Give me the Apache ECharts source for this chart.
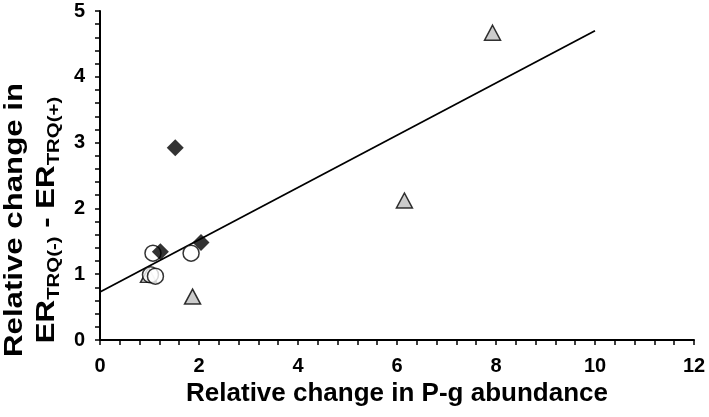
<!DOCTYPE html>
<html>
<head>
<meta charset="utf-8">
<script src="https://cdn.jsdelivr.net/npm/echarts@6/dist/echarts.min.js"></script>
<style>
html,body{margin:0;padding:0;background:#fff;}
#chart{width:709px;height:417px;}
</style>
</head>
<body>
<div id="chart"></div>
<script>
// Black diamonds
const diamondX = [1.52, 1.22, 2.04];
const diamondY = [2.92, 1.34, 1.48];
// Open circles
const circleX = [1.07, 1.02, 1.12, 1.84];
const circleY = [1.32, 0.99, 0.97, 1.32];
// Grey triangles
const triangleX = [0.98, 1.87, 6.15, 7.93];
const triangleY = [0.99, 0.66, 2.12, 4.67];
// Trend line end points
const trendX = [0, 10];
const trendY = [0.73, 4.70];
// Axis ticks
const xTicks = [0, 2, 4, 6, 8, 10, 12];
const yTicks = [0, 1, 2, 3, 4, 5];

function pairs(xs, ys){ return xs.map((x,i)=>[x, ys[i]]); }

const font = '"Liberation Sans", Arial, sans-serif';
const chart = echarts.init(document.getElementById('chart'));
chart.setOption({
  backgroundColor: '#ffffff',
  animation: false,
  grid: {left: 100, right: 15, top: 11, bottom: 77},
  xAxis: {
    type: 'value', min: xTicks[0], max: xTicks[xTicks.length-1], interval: xTicks[1]-xTicks[0],
    axisLine: {lineStyle: {color: '#000', width: 2}},
    axisTick: {show: true, inside: false, length: 5, lineStyle: {color: '#000', width: 1.5}},
    minorTick: {show: true, splitNumber: 5, length: 5, lineStyle: {color: '#000', width: 1.5}},
    splitLine: {show: false},
    axisLabel: {color: '#000', fontSize: 20, fontWeight: 'bold', fontFamily: font, margin: 16},
    name: 'Relative change in P-g abundance',
    nameLocation: 'middle', nameGap: 41,
    nameTextStyle: {color: '#000', fontSize: 26, fontWeight: 'bold', fontFamily: font}
  },
  yAxis: {
    type: 'value', min: yTicks[0], max: yTicks[yTicks.length-1], interval: yTicks[1]-yTicks[0],
    axisLine: {lineStyle: {color: '#000', width: 2}},
    axisTick: {show: true, inside: false, length: 5, lineStyle: {color: '#000', width: 1.5}},
    minorTick: {show: true, splitNumber: 5, length: 5, lineStyle: {color: '#000', width: 1.5}},
    splitLine: {show: false},
    axisLabel: {color: '#000', fontSize: 20, fontWeight: 'bold', fontFamily: font, margin: 15}
  },
  graphic: [{
    type: 'text',
    x: 31, y: 220,
    rotation: Math.PI/2,
    scaleX: 1.2, scaleY: 1.0,
    style: {
      text: 'Relative change in\nER{sub|TRQ(-)} - ER{sub|TRQ(+)}',
      fontSize: 26, fontWeight: 'bold', fontFamily: font, fill: '#000',
      align: 'center', verticalAlign: 'middle', lineHeight: 32,
      rich: {
        sub: {fontSize: 17, fontWeight: 'bold', fontFamily: font, fill: '#000', verticalAlign: 'bottom', lineHeight: 32, padding: [8,0,0,0]}
      }
    }
  }],
  series: [
    {
      type: 'line', data: pairs(trendX, trendY), symbol: 'none',
      lineStyle: {color: '#000', width: 1.8}, z: 1, silent: true
    },
    {
      type: 'scatter', data: pairs(triangleX, triangleY), symbol: 'triangle', symbolSize: [16, 15],
      itemStyle: {color: '#bfbfbf', borderColor: '#000', borderWidth: 1.5}, z: 2
    },
    {
      type: 'scatter', data: pairs(circleX, circleY), symbol: 'circle', symbolSize: 16,
      itemStyle: {color: '#fff', borderColor: '#000', borderWidth: 1.5}, z: 3
    },
    {
      type: 'scatter', data: pairs(diamondX, diamondY), symbol: 'diamond', symbolSize: [17, 17],
      itemStyle: {color: '#000'}, z: 4
    }
  ]
});
</script>
</body>
</html>
